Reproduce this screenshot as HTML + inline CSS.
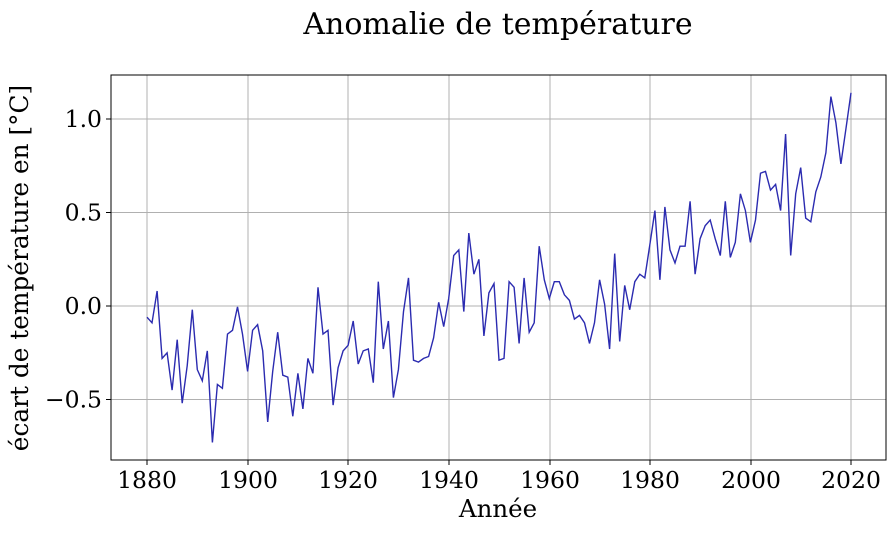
<!DOCTYPE html>
<html><head><meta charset="utf-8"><style>
html,body{margin:0;padding:0;background:#fff;}
svg text{font-family:"DejaVu Serif",serif;fill:#000;}
</style></head><body>
<svg id="s" width="896" height="531" xmlns="http://www.w3.org/2000/svg">
<rect width="896" height="531" fill="#fff"/>
<g stroke="#b0b0b0" stroke-width="1">
<line x1="147" y1="75" x2="147" y2="460"/><line x1="348" y1="75" x2="348" y2="460"/>
<line x1="449" y1="75" x2="449" y2="460"/><line x1="248" y1="75" x2="248" y2="460"/>
<line x1="550" y1="75" x2="550" y2="460"/><line x1="650" y1="75" x2="650" y2="460"/>
<line x1="751" y1="75" x2="751" y2="460"/><line x1="851" y1="75" x2="851" y2="460"/>
<line x1="111" y1="119" x2="886" y2="119"/><line x1="111" y1="212.5" x2="886" y2="212.5"/>
<line x1="111" y1="306" x2="886" y2="306"/><line x1="111" y1="399.5" x2="886" y2="399.5"/>
</g>
<polyline id="pl" fill="none" stroke="#2b2bb0" stroke-width="1.4" points=""/>
<rect x="111" y="75" width="775" height="385" fill="none" stroke="#000" stroke-width="1"/>
<g stroke="#000">
<line x1="147" y1="460" x2="147" y2="465"/><line x1="248" y1="460" x2="248" y2="465"/>
<line x1="348" y1="460" x2="348" y2="465"/><line x1="449" y1="460" x2="449" y2="465"/>
<line x1="550" y1="460" x2="550" y2="465"/><line x1="650" y1="460" x2="650" y2="465"/>
<line x1="751" y1="460" x2="751" y2="465"/><line x1="851" y1="460" x2="851" y2="465"/>
<line x1="106" y1="119" x2="111" y2="119"/><line x1="106" y1="212.5" x2="111" y2="212.5"/>
<line x1="106" y1="306" x2="111" y2="306"/><line x1="106" y1="399.5" x2="111" y2="399.5"/>
</g>
<g font-size="23.5" text-anchor="middle">
<text x="147" y="488">1880</text><text x="248" y="488">1900</text><text x="348" y="488">1920</text>
<text x="449" y="488">1940</text><text x="550" y="488">1960</text><text x="650" y="488">1980</text>
<text x="751" y="488">2000</text><text x="851" y="488">2020</text>
</g>
<g font-size="23.5" text-anchor="end">
<text x="102" y="127">1.0</text><text x="102" y="220.5">0.5</text>
<text x="102" y="314">0.0</text><text x="102" y="407.5">−0.5</text>
</g>
<text x="498" y="517" font-size="24.5" text-anchor="middle">Année</text>
<text transform="translate(28,268) rotate(-90)" font-size="24.8" text-anchor="middle">écart de température en [°C]</text>
<text x="498" y="34" font-size="30" text-anchor="middle">Anomalie de température</text>
</svg>
<script>
var d=[-0.06,-0.09,0.08,-0.28,-0.25,-0.45,-0.18,-0.52,-0.32,-0.02,-0.34,-0.40,-0.24,-0.73,-0.42,-0.44,-0.15,-0.13,-0.005,-0.15,-0.35,-0.13,-0.10,-0.24,-0.62,-0.35,-0.14,-0.37,-0.38,-0.59,-0.36,-0.55,-0.28,-0.36,0.10,-0.15,-0.13,-0.53,-0.33,-0.24,-0.21,-0.08,-0.31,-0.24,-0.23,-0.41,0.13,-0.23,-0.08,-0.49,-0.34,-0.03,0.15,-0.29,-0.30,-0.28,-0.27,-0.17,0.02,-0.11,0.04,0.27,0.30,-0.03,0.39,0.17,0.25,-0.16,0.07,0.12,-0.29,-0.28,0.13,0.10,-0.20,0.15,-0.14,-0.09,0.32,0.14,0.04,0.13,0.13,0.06,0.03,-0.07,-0.05,-0.09,-0.20,-0.09,0.14,0.01,-0.23,0.28,-0.19,0.11,-0.02,0.13,0.17,0.15,0.33,0.51,0.14,0.53,0.30,0.23,0.32,0.32,0.56,0.17,0.36,0.43,0.46,0.36,0.27,0.56,0.26,0.34,0.60,0.51,0.34,0.46,0.71,0.72,0.62,0.65,0.51,0.92,0.27,0.60,0.74,0.47,0.45,0.61,0.69,0.82,1.12,0.98,0.76,0.95,1.14];
var p=d.map(function(v,i){return (147+i*704/140).toFixed(1)+","+(306-v*187).toFixed(1);}).join(" ");
document.getElementById("pl").setAttribute("points",p);
</script>
</body></html>
